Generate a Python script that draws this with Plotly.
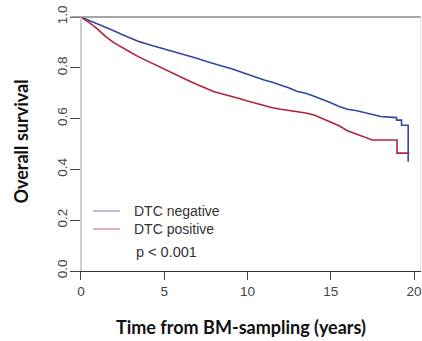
import plotly.graph_objects as go

# Kaplan-Meier estimates
t_neg = [0, 0.5, 1, 1.5, 2, 2.5, 3, 3.5, 4, 4.5, 5, 5.5, 6, 6.5, 7, 7.5, 8, 8.5, 9, 9.5,
         10, 10.5, 11, 11.5, 12, 12.5, 13, 13.5, 14, 14.5, 15, 15.5, 16, 16.5, 17, 17.5,
         18, 18.5, 18.95, 18.95, 19.25, 19.25, 19.65, 19.65]
s_neg = [1.000, 0.987, 0.972, 0.958, 0.945, 0.930, 0.915, 0.903, 0.893, 0.884, 0.875,
         0.866, 0.857, 0.847, 0.837, 0.826, 0.815, 0.806, 0.797, 0.786, 0.772, 0.762,
         0.752, 0.743, 0.733, 0.720, 0.707, 0.700, 0.688, 0.676, 0.662, 0.648, 0.637,
         0.632, 0.625, 0.616, 0.608, 0.606, 0.604, 0.594, 0.594, 0.574, 0.574, 0.430]

t_pos = [0, 0.5, 1, 1.5, 2, 2.5, 3, 3.5, 4, 4.5, 5, 5.5, 6, 6.5, 7, 7.5, 8, 8.5, 9, 9.5,
         10, 10.5, 11, 11.5, 12, 12.5, 13, 13.5, 14, 14.5, 15, 15.5, 16, 16.5, 17, 17.5,
         18.98, 18.98, 19.72]
s_pos = [1.000, 0.978, 0.952, 0.922, 0.898, 0.878, 0.860, 0.842, 0.826, 0.810, 0.793,
         0.778, 0.763, 0.748, 0.733, 0.718, 0.706, 0.697, 0.689, 0.679, 0.669, 0.660,
         0.652, 0.643, 0.637, 0.633, 0.628, 0.622, 0.614, 0.600, 0.587, 0.572, 0.552,
         0.540, 0.528, 0.516, 0.516, 0.464, 0.464]

x_ticks = [0, 5, 10, 15, 20]
y_ticks = [0.0, 0.2, 0.4, 0.6, 0.8, 1.0]
y_ticktext = ["0.0", "0.2", "0.4", "0.6", "0.8", "1.0"]
series_names = ["DTC negative", "DTC positive"]
p_text = "p < 0.001"

BLUE = "#34479f"
RED = "#b0233a"
LEG_BLUE = "#8c90c4"
LEG_RED = "#c98088"

fig = go.Figure()
fig.add_trace(go.Scatter(x=t_neg, y=s_neg, mode="lines", line=dict(color=BLUE, width=1.6),
                         showlegend=False, hoverinfo="skip"))
fig.add_trace(go.Scatter(x=t_pos, y=s_pos, mode="lines", line=dict(color=RED, width=1.6),
                         showlegend=False, hoverinfo="skip"))

font_fam = "Liberation Sans, Arial, sans-serif"
L, T, PW, PH = 71, 17, 350, 254


def px(x):
    return (x - L) / PW


def py(y):
    return (T + PH - y) / PH


shapes = [
    dict(type="line", xref="paper", yref="paper", x0=0, x1=1, y0=1, y1=1,
         line=dict(color="#8a8a8a", width=1.5)),
    dict(type="line", xref="paper", yref="paper", x0=px(420.5), x1=px(420.5), y0=0, y1=1,
         line=dict(color="#e2e2e2", width=1)),
    # legend keys
    dict(type="line", xref="paper", yref="paper", x0=px(93), x1=px(120), y0=py(211), y1=py(211),
         line=dict(color=LEG_BLUE, width=1.2)),
    dict(type="line", xref="paper", yref="paper", x0=px(93), x1=px(120), y0=py(229), y1=py(229),
         line=dict(color=LEG_RED, width=1.2)),
]

annotations = [
    dict(text=series_names[0], xref="paper", yref="paper", x=px(132), y=py(211),
         xanchor="left", yanchor="middle", showarrow=False, font=dict(size=14, color="#333")),
    dict(text=series_names[1], xref="paper", yref="paper", x=px(132), y=py(229),
         xanchor="left", yanchor="middle", showarrow=False, font=dict(size=14, color="#333")),
    dict(text=p_text, xref="paper", yref="paper", x=px(134), y=py(252),
         xanchor="left", yanchor="middle", showarrow=False, font=dict(size=14.5, color="#333")),
    dict(text="<b>Time from BM-sampling (years)</b>", xref="paper", yref="paper",
         x=px(241), y=py(327), xanchor="center", yanchor="middle",
         showarrow=False, font=dict(family="Lato, sans-serif", size=18, color="#111")),
    dict(text="<b>Overall survival</b>", xref="paper", yref="paper",
         x=px(20), y=py(141.5), xanchor="center", yanchor="middle",
         textangle=-90, showarrow=False, font=dict(family="Lato, sans-serif", size=18, color="#111")),
]

fig.update_layout(
    width=422, height=341,
    margin=dict(l=L, r=422 - L - PW, t=T, b=341 - T - PH, autoexpand=False),
    paper_bgcolor="white", plot_bgcolor="white",
    font=dict(family=font_fam, size=13, color="#333"),
    showlegend=False,
    xaxis=dict(range=[-0.6, 20.42], tickvals=x_ticks, ticks="outside", ticklen=8,
               tickcolor="#444", showline=True, linecolor="#333", linewidth=1.2,
               showgrid=False, zeroline=False, automargin=False,
               tickfont=dict(size=13.5, color="#444")),
    yaxis=dict(range=[0, 1], tickvals=y_ticks, ticktext=y_ticktext, anchor="free",
               position=10 / 350, ticks="outside", ticklen=10, tickcolor="#444",
               showline=True, linecolor="#cfcfcf", linewidth=1.5, showgrid=False,
               zeroline=False, tickangle=-90, automargin=False, ticklabelstandoff=-2,
               tickfont=dict(size=13.5, color="#444")),
    shapes=shapes,
    annotations=annotations,
)

fig.write_html("out.html", config={"displayModeBar": False},
               post_script="document.body.style.margin='0';document.body.style.overflow='hidden';")
